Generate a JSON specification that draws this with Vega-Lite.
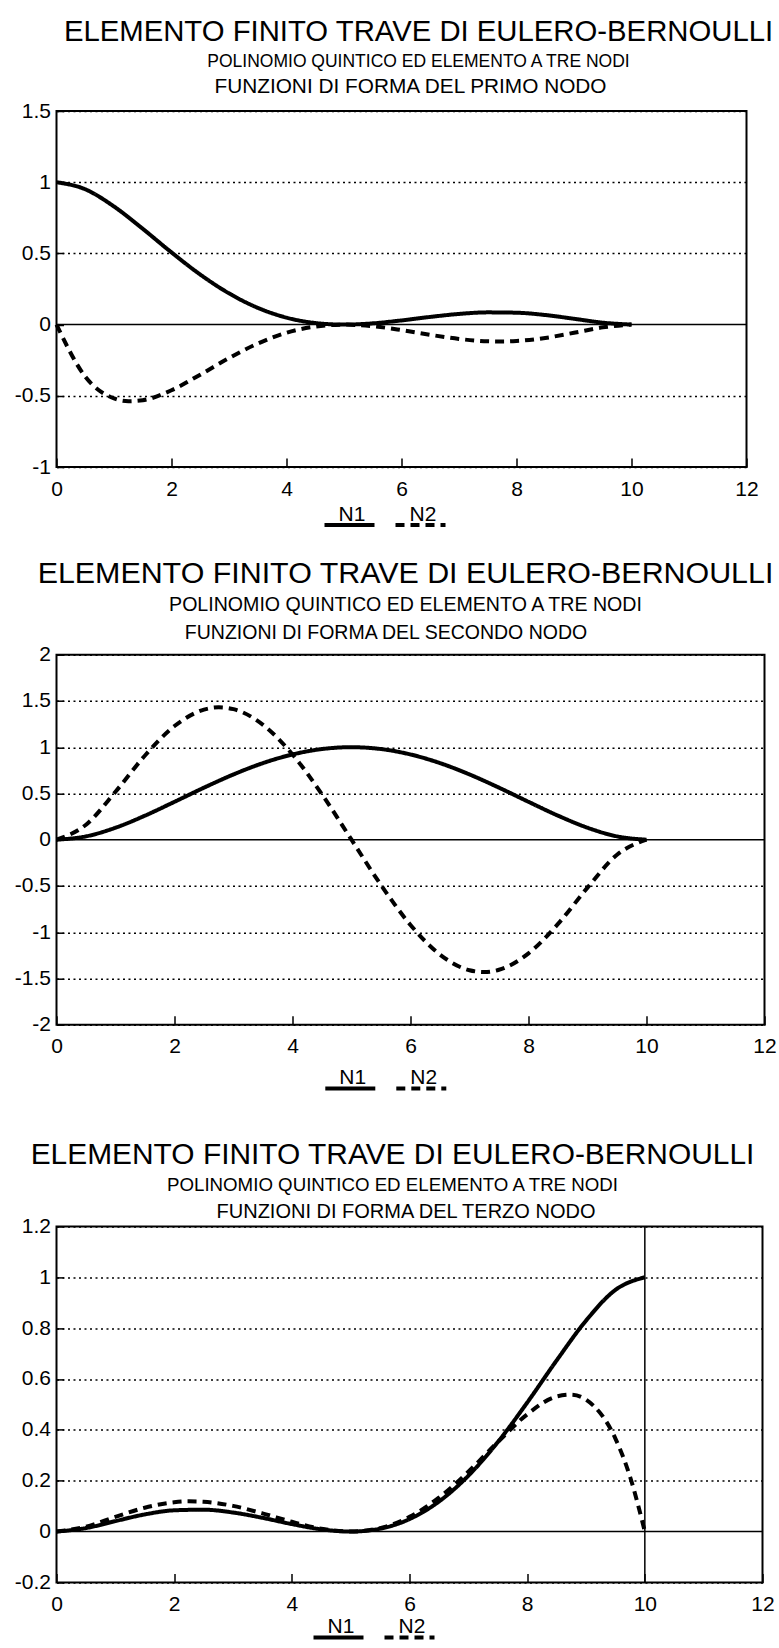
{
  "$schema": "https://vega.github.io/schema/vega-lite/v6.json",
  "background": "white",
  "padding": {"left": 12.5, "top": 17, "right": 4, "bottom": 0},
  "config": {
    "font": "Liberation Sans",
    "view": {"stroke": "black", "strokeWidth": 2},
    "line": {"color": "black", "strokeWidth": 4, "interpolate": "monotone"},
    "rule": {"color": "black", "strokeWidth": 1.5},
    "axis": {"domain": false, "labelFont": "Liberation Sans", "labelFontSize": 21, "labelColor": "black", "tickColor": "black", "tickWidth": 1.5, "title": null, "grid": false, "labelFlush": false, "labelOverlap": false, "titleFont": "Liberation Sans", "titleFontWeight": "normal", "titleColor": "black"},
    "axisX": {"tickSize": -9, "labelPadding": 20, "labelExpr": "toString(datum.value)"},
    "axisY": {"tickSize": -7, "labelPadding": 13, "grid": true, "gridColor": "black", "gridWidth": 1.5, "gridDash": [2, 3.5]},
    "title": {"font": "Liberation Sans", "fontSize": 29.3, "fontWeight": "normal", "color": "black", "subtitleFont": "Liberation Sans", "subtitleFontSize": 17.5, "subtitleColor": "black", "subtitlePadding": 6, "anchor": "middle", "offset": 5},
    "legend": {"orient": "none", "direction": "horizontal", "title": null, "symbolType": "stroke", "symbolStrokeWidth": 2, "symbolStrokeColor": "black", "symbolSize": 2500, "labelFont": "Liberation Sans", "labelFontSize": 21, "labelColor": "black", "labelBaseline": "bottom", "labelOffset": -38, "columnPadding": 5}
  },
  "datasets": {
    "p1": [
      {"x": 0, "y": 1.0, "series": "N1"}, {"x": 0.5, "y": 0.9503, "series": "N1"}, {"x": 1, "y": 0.8294, "series": "N1"}, {"x": 1.5, "y": 0.6727, "series": "N1"}, {"x": 2, "y": 0.5069, "series": "N1"}, {"x": 2.5, "y": 0.3516, "series": "N1"}, {"x": 3, "y": 0.2195, "series": "N1"}, {"x": 3.5, "y": 0.1179, "series": "N1"}, {"x": 4, "y": 0.049, "series": "N1"}, {"x": 4.5, "y": 0.0112, "series": "N1"}, {"x": 5, "y": 0, "series": "N1"}, {"x": 5.5, "y": 0.0087, "series": "N1"}, {"x": 6, "y": 0.0294, "series": "N1"}, {"x": 6.5, "y": 0.054, "series": "N1"}, {"x": 7, "y": 0.0749, "series": "N1"}, {"x": 7.5, "y": 0.0859, "series": "N1"}, {"x": 8, "y": 0.0835, "series": "N1"}, {"x": 8.5, "y": 0.0673, "series": "N1"}, {"x": 9, "y": 0.041, "series": "N1"}, {"x": 9.5, "y": 0.0136, "series": "N1"}, {"x": 10, "y": 0, "series": "N1"},
      {"x": 0, "y": 0, "series": "N2"}, {"x": 0.5, "y": -0.3655, "series": "N2"}, {"x": 1, "y": -0.5184, "series": "N2"}, {"x": 1.25, "y": -0.5383, "series": "N2"}, {"x": 1.5, "y": -0.5311, "series": "N2"}, {"x": 2, "y": -0.4608, "series": "N2"}, {"x": 2.5, "y": -0.3516, "series": "N2"}, {"x": 3, "y": -0.2352, "series": "N2"}, {"x": 3.5, "y": -0.1331, "series": "N2"}, {"x": 4, "y": -0.0576, "series": "N2"}, {"x": 4.5, "y": -0.0136, "series": "N2"}, {"x": 5, "y": 0, "series": "N2"}, {"x": 5.5, "y": -0.0111, "series": "N2"}, {"x": 6, "y": -0.0384, "series": "N2"}, {"x": 6.5, "y": -0.0717, "series": "N2"}, {"x": 7, "y": -0.1008, "series": "N2"}, {"x": 7.5, "y": -0.1172, "series": "N2"}, {"x": 7.75, "y": -0.1187, "series": "N2"}, {"x": 8, "y": -0.1152, "series": "N2"}, {"x": 8.5, "y": -0.0937, "series": "N2"}, {"x": 9, "y": -0.0576, "series": "N2"}, {"x": 9.5, "y": -0.0192, "series": "N2"}, {"x": 10, "y": 0, "series": "N2"}
    ],
    "p2": [
      {"x": 0, "y": 0, "series": "N1"}, {"x": 0.5, "y": 0.0361, "series": "N1"}, {"x": 1, "y": 0.1296, "series": "N1"}, {"x": 1.5, "y": 0.2601, "series": "N1"}, {"x": 2, "y": 0.4096, "series": "N1"}, {"x": 2.5, "y": 0.5625, "series": "N1"}, {"x": 3, "y": 0.7056, "series": "N1"}, {"x": 3.5, "y": 0.8281, "series": "N1"}, {"x": 4, "y": 0.9216, "series": "N1"}, {"x": 4.5, "y": 0.9801, "series": "N1"}, {"x": 5, "y": 1, "series": "N1"}, {"x": 5.5, "y": 0.9801, "series": "N1"}, {"x": 6, "y": 0.9216, "series": "N1"}, {"x": 6.5, "y": 0.8281, "series": "N1"}, {"x": 7, "y": 0.7056, "series": "N1"}, {"x": 7.5, "y": 0.5625, "series": "N1"}, {"x": 8, "y": 0.4096, "series": "N1"}, {"x": 8.5, "y": 0.2601, "series": "N1"}, {"x": 9, "y": 0.1296, "series": "N1"}, {"x": 9.5, "y": 0.0361, "series": "N1"}, {"x": 10, "y": 0, "series": "N1"},
      {"x": 0, "y": 0, "series": "N2"}, {"x": 0.5, "y": 0.1624, "series": "N2"}, {"x": 1, "y": 0.5184, "series": "N2"}, {"x": 1.5, "y": 0.9103, "series": "N2"}, {"x": 2, "y": 1.2288, "series": "N2"}, {"x": 2.5, "y": 1.4063, "series": "N2"}, {"x": 2.75, "y": 1.431, "series": "N2"}, {"x": 3, "y": 1.4112, "series": "N2"}, {"x": 3.5, "y": 1.2422, "series": "N2"}, {"x": 4, "y": 0.9216, "series": "N2"}, {"x": 4.5, "y": 0.4901, "series": "N2"}, {"x": 5, "y": 0, "series": "N2"}, {"x": 5.5, "y": -0.4901, "series": "N2"}, {"x": 6, "y": -0.9216, "series": "N2"}, {"x": 6.5, "y": -1.2422, "series": "N2"}, {"x": 7, "y": -1.4112, "series": "N2"}, {"x": 7.25, "y": -1.431, "series": "N2"}, {"x": 7.5, "y": -1.4063, "series": "N2"}, {"x": 8, "y": -1.2288, "series": "N2"}, {"x": 8.5, "y": -0.9103, "series": "N2"}, {"x": 9, "y": -0.5184, "series": "N2"}, {"x": 9.5, "y": -0.1624, "series": "N2"}, {"x": 10, "y": 0, "series": "N2"}
    ],
    "p3": [
      {"x": 0, "y": 0, "series": "N1"}, {"x": 0.5, "y": 0.0136, "series": "N1"}, {"x": 1, "y": 0.041, "series": "N1"}, {"x": 1.5, "y": 0.0673, "series": "N1"}, {"x": 2, "y": 0.0835, "series": "N1"}, {"x": 2.5, "y": 0.0859, "series": "N1"}, {"x": 3, "y": 0.0749, "series": "N1"}, {"x": 3.5, "y": 0.054, "series": "N1"}, {"x": 4, "y": 0.0294, "series": "N1"}, {"x": 4.5, "y": 0.0087, "series": "N1"}, {"x": 5, "y": 0, "series": "N1"}, {"x": 5.5, "y": 0.0112, "series": "N1"}, {"x": 6, "y": 0.049, "series": "N1"}, {"x": 6.5, "y": 0.1179, "series": "N1"}, {"x": 7, "y": 0.2195, "series": "N1"}, {"x": 7.5, "y": 0.3516, "series": "N1"}, {"x": 8, "y": 0.5069, "series": "N1"}, {"x": 8.5, "y": 0.6727, "series": "N1"}, {"x": 9, "y": 0.8294, "series": "N1"}, {"x": 9.5, "y": 0.9503, "series": "N1"}, {"x": 10, "y": 1, "series": "N1"},
      {"x": 0, "y": 0, "series": "N2"}, {"x": 0.5, "y": 0.0192, "series": "N2"}, {"x": 1, "y": 0.0576, "series": "N2"}, {"x": 1.5, "y": 0.0937, "series": "N2"}, {"x": 2, "y": 0.1152, "series": "N2"}, {"x": 2.25, "y": 0.1187, "series": "N2"}, {"x": 2.5, "y": 0.1172, "series": "N2"}, {"x": 3, "y": 0.1008, "series": "N2"}, {"x": 3.5, "y": 0.0717, "series": "N2"}, {"x": 4, "y": 0.0384, "series": "N2"}, {"x": 4.5, "y": 0.0111, "series": "N2"}, {"x": 5, "y": 0, "series": "N2"}, {"x": 5.5, "y": 0.0136, "series": "N2"}, {"x": 6, "y": 0.0576, "series": "N2"}, {"x": 6.5, "y": 0.1331, "series": "N2"}, {"x": 7, "y": 0.2352, "series": "N2"}, {"x": 7.5, "y": 0.3516, "series": "N2"}, {"x": 8, "y": 0.4608, "series": "N2"}, {"x": 8.5, "y": 0.5311, "series": "N2"}, {"x": 8.75, "y": 0.5383, "series": "N2"}, {"x": 9, "y": 0.5184, "series": "N2"}, {"x": 9.5, "y": 0.3655, "series": "N2"}, {"x": 9.75, "y": 0.2145, "series": "N2"}, {"x": 10, "y": 0, "series": "N2"}
    ]
  },
  "spacing": 23.7,
  "resolve": {"scale": {"x": "independent", "y": "independent", "strokeDash": "independent"}, "legend": {"strokeDash": "independent"}},
  "vconcat": [
    {
      "width": 690, "height": 356,
      "title": {"text": "ELEMENTO FINITO TRAVE DI EULERO-BERNOULLI", "subtitle": "POLINOMIO QUINTICO ED ELEMENTO A TRE NODI", "dx": 17, "subtitlePadding": 5},
      "resolve": {"axis": {"x": "independent"}},
      "layer": [
        {
          "data": {"values": [{"x": 0, "x2": 12, "y": 0}]},
          "mark": {"type": "rule"},
          "encoding": {
            "x": {"field": "x", "type": "quantitative", "scale": {"domain": [0, 12], "nice": false},
              "axis": {"orient": "top", "title": "FUNZIONI DI FORMA DEL PRIMO NODO", "labels": false, "ticks": false, "domain": false, "grid": false, "titleFontSize": 20.8, "titlePadding": 15, "titleX": 353.5, "titleAlign": "center"}},
            "x2": {"field": "x2"},
            "y": {"field": "y", "type": "quantitative", "scale": {"domain": [-1, 1.5], "nice": false, "zero": false}}
          }
        },
        {
          "data": {"name": "p1"},
          "mark": {"type": "line"},
          "encoding": {
            "x": {"field": "x", "type": "quantitative", "scale": {"domain": [0, 12], "nice": false}, "axis": {"values": [0, 2, 4, 6, 8, 10, 12]}},
            "y": {"field": "y", "type": "quantitative", "scale": {"domain": [-1, 1.5], "nice": false, "zero": false},
              "axis": {"values": [-1, -0.75, -0.5, -0.25, 0, 0.25, 0.5, 0.75, 1, 1.25, 1.5],
                "labelExpr": "round(datum.value*4) % 2 === 0 ? toString(datum.value) : ''",
                "gridOpacity": {"condition": {"test": "round(datum.value*4) % 2 === 0 && datum.value !== 0", "value": 1}, "value": 0}}},
            "strokeDash": {"field": "series", "type": "nominal", "scale": {"domain": ["N1", "N2"], "range": [[1, 0], [9, 6]]},
              "legend": {"legendX": 266, "legendY": 387}}
          }
        }
      ]
    },
    {
      "width": 708, "height": 370,
      "title": {"text": "ELEMENTO FINITO TRAVE DI EULERO-BERNOULLI", "subtitle": "POLINOMIO QUINTICO ED ELEMENTO A TRE NODI", "dx": -5, "fontSize": 30.4, "subtitleFontSize": 19.6, "subtitlePadding": 7, "offset": 8.2},
      "resolve": {"axis": {"x": "independent"}},
      "layer": [
        {
          "data": {"values": [{"x": 0, "x2": 12, "y": 0}]},
          "mark": {"type": "rule"},
          "encoding": {
            "x": {"field": "x", "type": "quantitative", "scale": {"domain": [0, 12], "nice": false},
              "axis": {"orient": "top", "title": "FUNZIONI DI FORMA DEL SECONDO NODO", "labels": false, "ticks": false, "domain": false, "grid": false, "titleFontSize": 19.5, "titlePadding": 11.8, "titleX": 329, "titleAlign": "center"}},
            "x2": {"field": "x2"},
            "y": {"field": "y", "type": "quantitative", "scale": {"domain": [-2, 2], "nice": false, "zero": false}}
          }
        },
        {
          "data": {"name": "p2"},
          "mark": {"type": "line"},
          "encoding": {
            "x": {"field": "x", "type": "quantitative", "scale": {"domain": [0, 12], "nice": false}, "axis": {"values": [0, 2, 4, 6, 8, 10, 12]}},
            "y": {"field": "y", "type": "quantitative", "scale": {"domain": [-2, 2], "nice": false, "zero": false},
              "axis": {"values": [-2, -1.75, -1.5, -1.25, -1, -0.75, -0.5, -0.25, 0, 0.25, 0.5, 0.75, 1, 1.25, 1.5, 1.75, 2],
                "labelExpr": "round(datum.value*4) % 2 === 0 ? toString(datum.value) : ''",
                "gridOpacity": {"condition": {"test": "round(datum.value*4) % 2 === 0 && datum.value !== 0", "value": 1}, "value": 0}}},
            "strokeDash": {"field": "series", "type": "nominal", "scale": {"domain": ["N1", "N2"], "range": [[1, 0], [9, 6]]},
              "legend": {"legendX": 250, "legendY": 389.9, "padding": 16.8}}
          }
        }
      ]
    },
    {
      "width": 706, "height": 356,
      "title": {"text": "ELEMENTO FINITO TRAVE DI EULERO-BERNOULLI", "subtitle": "POLINOMIO QUINTICO ED ELEMENTO A TRE NODI", "dx": -17, "fontSize": 29.9, "subtitleFontSize": 18.7, "subtitlePadding": 6, "offset": 7.1},
      "resolve": {"axis": {"x": "independent"}},
      "layer": [
        {
          "data": {"values": [{"x": 0, "x2": 12, "y": 0}]},
          "mark": {"type": "rule"},
          "encoding": {
            "x": {"field": "x", "type": "quantitative", "scale": {"domain": [0, 12], "nice": false},
              "axis": {"orient": "top", "title": "FUNZIONI DI FORMA DEL TERZO NODO", "labels": false, "ticks": false, "domain": false, "grid": false, "titleFontSize": 20, "titlePadding": 4.6, "titleX": 349, "titleAlign": "center"}},
            "x2": {"field": "x2"},
            "y": {"field": "y", "type": "quantitative", "scale": {"domain": [-0.2, 1.2], "nice": false, "zero": false}}
          }
        },
        {
          "data": {"name": "p3"},
          "mark": {"type": "line"},
          "encoding": {
            "x": {"field": "x", "type": "quantitative", "scale": {"domain": [0, 12], "nice": false}, "axis": {"values": [0, 2, 4, 6, 8, 10, 12]}},
            "y": {"field": "y", "type": "quantitative", "scale": {"domain": [-0.2, 1.2], "nice": false, "zero": false},
              "axis": {"values": [-0.2, -0.1, 0, 0.1, 0.2, 0.3, 0.4, 0.5, 0.6, 0.7, 0.8, 0.9, 1, 1.1, 1.2],
                "labelExpr": "round(datum.value*10) % 2 === 0 ? toString(datum.value) : ''",
                "gridOpacity": {"condition": {"test": "round(datum.value*10) % 2 === 0 && datum.value !== 0", "value": 1}, "value": 0}}},
            "strokeDash": {"field": "series", "type": "nominal", "scale": {"domain": ["N1", "N2"], "range": [[1, 0], [9, 6]]},
              "legend": {"legendX": 255, "legendY": 384}}
          }
        },
        {
          "data": {"values": [{"x": 10}]},
          "mark": {"type": "rule"},
          "encoding": {"x": {"field": "x", "type": "quantitative", "axis": null}}
        }
      ]
    }
  ]
}
